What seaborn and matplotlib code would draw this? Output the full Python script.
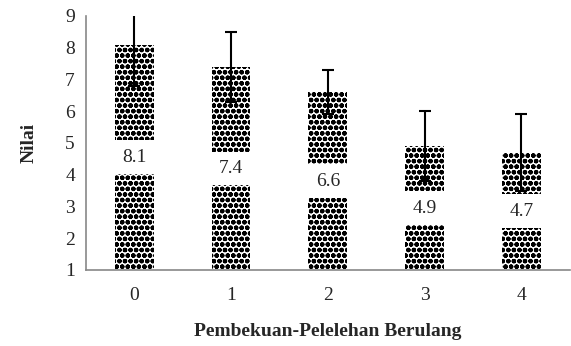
import numpy as np
import pandas as pd
import matplotlib
matplotlib.use("Agg")
import matplotlib.pyplot as plt
import seaborn as sns

# data
siklus = ["0", "1", "2", "3", "4"]
nilai = [8.1, 7.4, 6.6, 4.9, 4.7]
galat = [1.3, 1.1, 0.7, 1.1, 1.2]

df = pd.DataFrame({"siklus": siklus, "nilai": nilai})

sns.set_style("white")
plt.rcParams["font.family"] = ["Liberation Serif", "DejaVu Serif"]
plt.rcParams["hatch.linewidth"] = 1.6

fig = plt.figure(figsize=(5.71, 3.46), dpi=100)
ax = fig.add_axes([0.1506, 0.2197, 0.847, 0.7341])

sns.barplot(data=df, x="siklus", y="nilai", color="white", width=0.4,
            errorbar=None, ax=ax)
for p in ax.patches:
    p.set_facecolor("white")
    p.set_edgecolor("black")
    p.set_linewidth(0)
    p.set_hatch("ooo")

# error bars
ax.errorbar(np.arange(len(nilai)), nilai, yerr=galat, fmt="none",
            ecolor="black", elinewidth=1.5, capsize=4.5, capthick=1.5,
            zorder=5)

# value labels in the middle of each visible bar
ymin = 1
for i, v in enumerate(nilai):
    ax.text(i, (v + ymin) / 2, f"{v:.1f}", ha="center", va="center",
            fontsize=14, zorder=4,
            bbox=dict(facecolor="white", edgecolor="none", pad=6))

ax.set_ylim(1, 9)
ax.set_xlim(-0.5, 4.5)
ax.set_yticks(range(1, 10))
ax.set_xticks(np.arange(-0.5, 5, 1), minor=False)
ax.set_xticklabels([])
ax.set_xticks(np.arange(5), minor=True)
ax.set_xticklabels(siklus, minor=True)
ax.tick_params(axis="x", which="major", direction="out", length=5,
               width=1, color="#888888")
ax.tick_params(axis="x", which="minor", length=0, labelsize=14, pad=12)
ax.tick_params(axis="y", direction="out", length=5, width=1,
               color="#888888", labelsize=14, pad=3)

for s in ["top", "right"]:
    ax.spines[s].set_visible(False)
for s in ["left", "bottom"]:
    ax.spines[s].set_color("#888888")
    ax.spines[s].set_linewidth(1.2)

ax.set_xlabel("Pembekuan-Pelelehan Berulang", fontsize=14,
              fontweight="bold", labelpad=14)
ax.set_ylabel("Nilai", fontsize=14, fontweight="bold", labelpad=20)

fig.savefig("out.png", dpi=100)
